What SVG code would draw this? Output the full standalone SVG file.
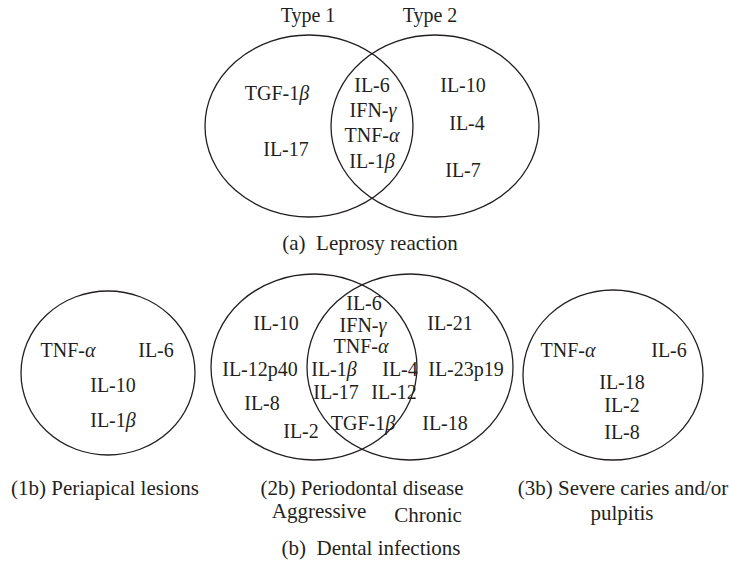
<svg xmlns="http://www.w3.org/2000/svg" width="729" height="568" viewBox="0 0 729 568">
<style>
.c{fill:none;stroke:#231f20;stroke-width:1.3}
text{font-family:"Liberation Serif","Times New Roman",serif;font-size:20px;fill:#231f20;text-anchor:middle}
.g{font-style:italic}
.cap{font-size:21px;white-space:pre}
</style>
<rect width="729" height="568" fill="#fff"/>
<g id="connectors"/>
<g id="leprosy">
<ellipse id="type1" class="c" cx="309" cy="126" rx="104" ry="91"/>
<ellipse id="type2" class="c" cx="435" cy="126" rx="104" ry="91"/>
<text x="308" y="22">Type 1</text>
<text x="430" y="22">Type 2</text>
<text x="277" y="100">TGF-1<tspan class="g">β</tspan></text>
<text x="286" y="156">IL-17</text>
<text x="372" y="92">IL-6</text>
<text x="373" y="117">IFN-<tspan class="g">γ</tspan></text>
<text x="372" y="142">TNF-<tspan class="g">α</tspan></text>
<text x="372" y="168">IL-1<tspan class="g">β</tspan></text>
<text x="463" y="92">IL-10</text>
<text x="467" y="130">IL-4</text>
<text x="463" y="177">IL-7</text>
<text class="cap" x="370" y="250" xml:space="preserve">(a)  Leprosy reaction</text>
</g>
<g id="periapical">
<ellipse class="c" cx="108" cy="373" rx="87" ry="82"/>
<text x="68" y="357">TNF-<tspan class="g">α</tspan></text>
<text x="156" y="357">IL-6</text>
<text x="113" y="392">IL-10</text>
<text x="113" y="427">IL-1<tspan class="g">β</tspan></text>
<text class="cap" x="105" y="495">(1b) Periapical lesions</text>
</g>
<g id="periodontal">
<ellipse id="aggressive" class="c" cx="314" cy="367" rx="103" ry="93"/>
<ellipse id="chronic" class="c" cx="410" cy="367" rx="103" ry="93"/>
<text x="364" y="310">IL-6</text>
<text x="363" y="332">IFN-<tspan class="g">γ</tspan></text>
<text x="361" y="353">TNF-<tspan class="g">α</tspan></text>
<text x="276" y="330">IL-10</text>
<text x="450" y="330">IL-21</text>
<text x="260" y="376">IL-12p40</text>
<text x="334" y="376">IL-1<tspan class="g">β</tspan></text>
<text x="400" y="376">IL-4</text>
<text x="466" y="376">IL-23p19</text>
<text x="336" y="399">IL-17</text>
<text x="394" y="399">IL-12</text>
<text x="262" y="410">IL-8</text>
<text x="363" y="430">TGF-1<tspan class="g">β</tspan></text>
<text x="445" y="430">IL-18</text>
<text x="301" y="438">IL-2</text>
<text class="cap" x="362" y="495">(2b) Periodontal disease</text>
<text class="cap" x="319" y="518">Aggressive</text>
<text class="cap" x="428" y="522">Chronic</text>
</g>
<g id="caries">
<ellipse class="c" cx="613" cy="375" rx="90" ry="85"/>
<text x="568" y="357">TNF-<tspan class="g">α</tspan></text>
<text x="669" y="357">IL-6</text>
<text x="622" y="389">IL-18</text>
<text x="622" y="412">IL-2</text>
<text x="622" y="439">IL-8</text>
<text class="cap" x="623" y="495">(3b) Severe caries and/or</text>
<text class="cap" x="622" y="520">pulpitis</text>
</g>
<g id="dental-caption">
<text class="cap" x="371" y="555" xml:space="preserve">(b)  Dental infections</text>
</g>
</svg>
